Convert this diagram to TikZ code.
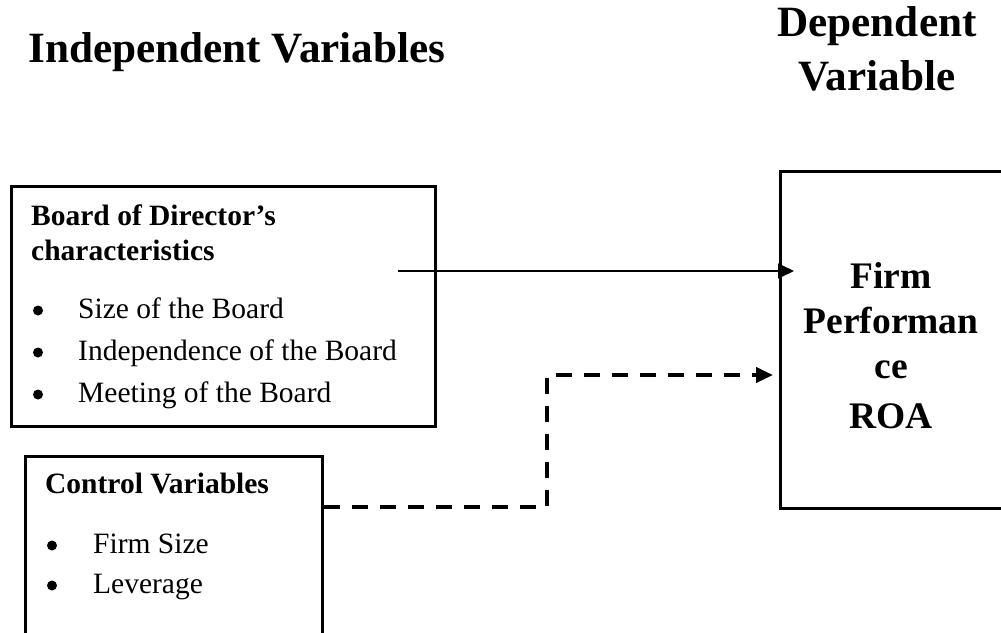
\documentclass[tikz,border=0pt]{standalone}
\usepackage{fontspec}
\setmainfont{Liberation Serif}
\usetikzlibrary{arrows.meta}
\begin{document}
\begin{tikzpicture}[x=1pt,y=-1pt,
  txt/.style={inner sep=0pt,anchor=base west},
  ctxt/.style={inner sep=0pt,anchor=base},
  title/.style={ctxt,font=\fontsize{43.2}{54}\selectfont\bfseries},
  head/.style={txt,font=\fontsize{29.5}{35}\selectfont\bfseries},
  item/.style={txt,font=\fontsize{29.5}{40}\selectfont},
  bul/.style={circle,fill,inner sep=0pt,minimum size=10pt},
  big/.style={ctxt,font=\fontsize{37.5}{45}\selectfont\bfseries},
  box/.style={draw,line width=2.7pt,inner sep=0pt,anchor=north west},
  solidarrow/.style={line width=1.4pt,-{Triangle[length=16pt,width=15pt]}},
  dasharrow/.style={line width=4pt,dash pattern=on 16pt off 12pt,-{Triangle[length=17pt,width=15pt]}}
]
\useasboundingbox (0,0) rectangle (1001,632);
\clip (0,0) rectangle (1001,632);
% titles
\node[title,anchor=base west] (indep) at (28,62) {Independent Variables};
\node[title] (dep1) at (877,36) {Dependent};
\node[title] (dep2) at (877,90) {Variable};
% boxes
\node[box,minimum width=424pt,minimum height=240pt] (board) at (10,185) {};
\node[box,minimum width=297pt,minimum height=200pt] (ctrl) at (24,455) {};
\node[box,minimum width=240pt,minimum height=337pt] (firm) at (779,170) {};
% board text
\node[head] (bh1) at (31,225) {Board of Director’s};
\node[head] (bh2) at (31,260) {characteristics};
\node[bul] (b1) at (38,310.5) {};
\node[item] (i1) at (78,318) {Size of the Board};
\node[bul] (b2) at (38,352.5) {};
\node[item] (i2) at (78,360) {Independence of the Board};
\node[bul] (b3) at (38,394.5) {};
\node[item] (i3) at (78,402) {Meeting of the Board};
% control text
\node[head] (ch) at (45,493) {Control Variables};
\node[bul] (c1b) at (52,545.5) {};
\node[item] (c1) at (93,553) {Firm Size};
\node[bul] (c2b) at (52,585.5) {};
\node[item] (c2) at (93,593) {Leverage};
% firm text
\node[big] (f1) at (891,288) {Firm};
\node[big] (f2) at (891,333) {Performan};
\node[big] (f3) at (891,378) {ce};
\node[big] (f4) at (891,428) {ROA};
% connectors
\coordinate (s1) at (398,271);
\coordinate (t1) at (794,271);
\draw[solidarrow] (s1) -- (t1);
\coordinate (d0) at (ctrl.east |- 0,507);
\coordinate (d1) at (547,507);
\coordinate (d2) at (547,375);
\coordinate (t2) at (773,375);
\draw[dasharrow] (d0) -- (d1) -- (d2) -- (t2);
\end{tikzpicture}
\end{document}
